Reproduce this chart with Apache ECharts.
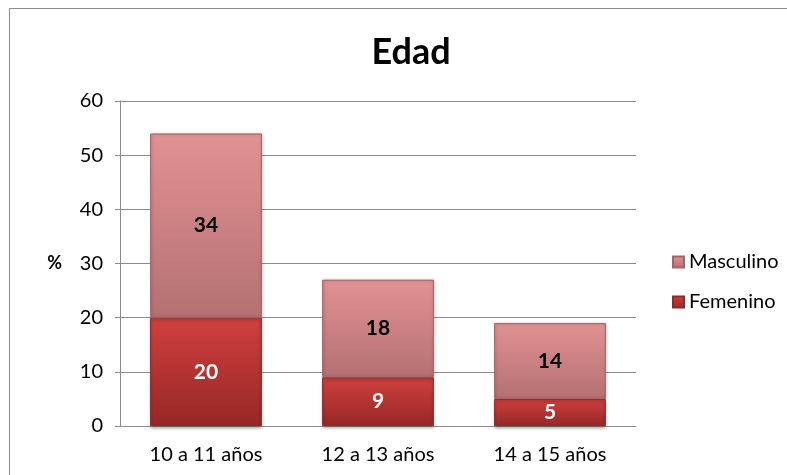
<!DOCTYPE html>
<html>
<head>
<meta charset="utf-8">
<script src="https://cdn.jsdelivr.net/npm/echarts@6/dist/echarts.min.js"></script>
<style>
  html, body { margin: 0; padding: 0; background: #fff; }
  #chart { width: 787px; height: 475px; }
  .frame {
    position: absolute;
    left: 9px;
    top: 8px;
    width: 900px;
    height: 600px;
    border-left: 1px solid #8c8c8c;
    border-top: 1px solid #8c8c8c;
    pointer-events: none;
  }
</style>
</head>
<body>
<div id="chart"></div>
<div class="frame"></div>
<script>
const categories = ['10 a 11 años', '12 a 13 años', '14 a 15 años']
const femenino = [20, 9, 5]
const masculino = [34, 18, 14]
const yTicks = [0, 10, 20, 30, 40, 50, 60]

const font = 'Lato, "Open Sans", sans-serif'

const chart = echarts.init(document.getElementById('chart'))

function grad(top, bottom) {
  return new echarts.graphic.LinearGradient(0, 0, 0, 1, [
    { offset: 0, color: top },
    { offset: 1, color: bottom },
  ])
}

chart.setOption({
  animation: false,
  title: {
    text: 'Edad',
    left: 406,
    top: 29,
    textAlign: 'center',
    textStyle: { fontFamily: font, fontSize: 36, fontWeight: 'bold', color: '#000' },
  },
  legend: {
    orient: 'vertical',
    left: 667,
    top: 247,
    itemWidth: 11,
    itemHeight: 11,
    itemGap: 20,
    icon: 'rect',
    data: ['Masculino', 'Femenino'],
    textStyle: { fontFamily: font, fontSize: 20, color: '#000' },
  },
  grid: { left: 120, right: 151, top: 101, bottom: 49 },
  xAxis: {
    type: 'category',
    data: categories,
    axisLine: { lineStyle: { color: '#8c8c8c' } },
    axisTick: { show: false },
    axisLabel: { fontFamily: font, fontSize: 20, color: '#000', margin: 19 },
  },
  yAxis: {
    type: 'value',
    min: yTicks[0],
    max: yTicks[yTicks.length - 1],
    interval: 10,
    name: '%',
    nameLocation: 'middle',
    nameGap: 58,
    nameRotate: 0,
    nameTextStyle: { fontFamily: font, fontSize: 18, fontWeight: 'bold', color: '#000' },
    axisLine: { show: true, lineStyle: { color: '#8c8c8c' } },
    axisTick: { show: true, length: 5, lineStyle: { color: '#8c8c8c' } },
    axisLabel: { fontFamily: font, fontSize: 20, color: '#000', margin: 17 },
    splitLine: { lineStyle: { color: '#8c8c8c' } },
  },
  series: [
    {
      name: 'Femenino',
      type: 'bar',
      stack: 'edad',
      data: femenino,
      barCategoryGap: '35%',
      itemStyle: {
        color: grad('#d0403e', '#962727'),
        borderColor: '#8a2a2a',
        borderWidth: 1,
        shadowBlur: 3,
        shadowColor: 'rgba(0,0,0,.3)',
        shadowOffsetY: 2,
      },
      label: {
        show: true,
        position: 'inside',
        fontFamily: font,
        fontSize: 21,
        fontWeight: 'bold',
        color: '#fff',
      },
    },
    {
      name: 'Masculino',
      type: 'bar',
      stack: 'edad',
      data: masculino,
      itemStyle: {
        color: grad('#e19293', '#b57072'),
        borderColor: '#a36466',
        borderWidth: 1,
        shadowBlur: 3,
        shadowColor: 'rgba(0,0,0,.25)',
        shadowOffsetX: 1,
      },
      label: {
        show: true,
        position: 'inside',
        fontFamily: font,
        fontSize: 21,
        fontWeight: 'bold',
        color: '#000',
      },
    },
  ],
})
</script>
</body>
</html>
